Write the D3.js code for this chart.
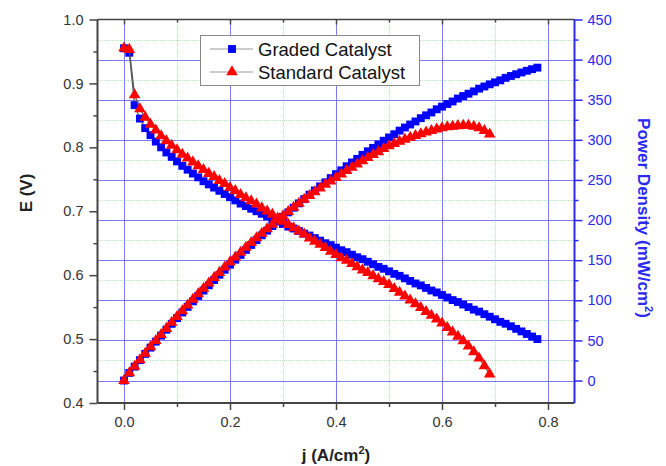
<!DOCTYPE html>
<html>
<head>
<meta charset="utf-8">
<script src="https://cdn.jsdelivr.net/npm/d3@7/dist/d3.min.js"></script>
<style>
    body { margin: 0; background: #fff; }
    text { font-family: "Liberation Sans", Arial, sans-serif; }
</style>
</head>
<body>
<script>
//polarization data
var jGraded = [0.00, 0.01, 0.02, 0.03, 0.04, 0.05, 0.06, 0.07, 0.08, 0.09,
    0.10, 0.11, 0.12, 0.13, 0.14, 0.15, 0.16, 0.17, 0.18, 0.19,
    0.20, 0.21, 0.22, 0.23, 0.24, 0.25, 0.26, 0.27, 0.28, 0.29,
    0.30, 0.31, 0.32, 0.33, 0.34, 0.35, 0.36, 0.37, 0.38, 0.39,
    0.40, 0.41, 0.42, 0.43, 0.44, 0.45, 0.46, 0.47, 0.48, 0.49,
    0.50, 0.51, 0.52, 0.53, 0.54, 0.55, 0.56, 0.57, 0.58, 0.59,
    0.60, 0.61, 0.62, 0.63, 0.64, 0.65, 0.66, 0.67, 0.68, 0.69,
    0.70, 0.71, 0.72, 0.73, 0.74, 0.75, 0.76, 0.77, 0.78];
var eGraded = [0.955, 0.948, 0.866, 0.845, 0.830, 0.819, 0.809, 0.800, 0.792, 0.785,
    0.778, 0.771, 0.765, 0.759, 0.753, 0.747, 0.742, 0.737, 0.732, 0.727,
    0.722, 0.717, 0.712, 0.708, 0.704, 0.700, 0.696, 0.692, 0.688, 0.684,
    0.680, 0.676, 0.673, 0.669, 0.665, 0.662, 0.658, 0.654, 0.650, 0.647,
    0.643, 0.639, 0.636, 0.632, 0.628, 0.625, 0.621, 0.617, 0.613, 0.610,
    0.606, 0.602, 0.599, 0.595, 0.591, 0.587, 0.584, 0.580, 0.576, 0.573,
    0.569, 0.565, 0.561, 0.558, 0.554, 0.550, 0.546, 0.543, 0.539, 0.535,
    0.531, 0.527, 0.524, 0.520, 0.516, 0.512, 0.508, 0.504, 0.500];
var pGraded = [0, 9.5, 17.3, 25.4, 33.2, 41.0, 48.5, 56.0, 63.4, 70.7,
    77.8, 84.8, 91.8, 98.7, 105.4, 112.1, 118.7, 125.3, 131.8, 138.1,
    144.4, 150.6, 156.6, 162.8, 169.0, 175.0, 181.0, 186.8, 192.6, 198.4,
    204.0, 209.6, 215.4, 220.8, 226.1, 231.7, 236.9, 242.0, 247.0, 252.3,
    257.2, 262.0, 267.1, 271.8, 276.3, 281.3, 285.7, 290.0, 294.2, 298.9,
    303.0, 307.0, 311.5, 315.4, 319.1, 322.9, 327.0, 330.6, 334.1, 338.1,
    341.4, 344.7, 347.8, 351.5, 354.6, 357.5, 360.4, 363.8, 366.5, 369.2,
    371.7, 374.2, 377.3, 379.6, 381.8, 384.0, 386.1, 388.1, 390.0];

var jStandard = [0.00, 0.01, 0.02, 0.03, 0.04, 0.05, 0.06, 0.07, 0.08, 0.09,
    0.10, 0.11, 0.12, 0.13, 0.14, 0.15, 0.16, 0.17, 0.18, 0.19,
    0.20, 0.21, 0.22, 0.23, 0.24, 0.25, 0.26, 0.27, 0.28, 0.29,
    0.30, 0.31, 0.32, 0.33, 0.34, 0.35, 0.36, 0.37, 0.38, 0.39,
    0.40, 0.41, 0.42, 0.43, 0.44, 0.45, 0.46, 0.47, 0.48, 0.49,
    0.50, 0.51, 0.52, 0.53, 0.54, 0.55, 0.56, 0.57, 0.58, 0.59,
    0.60, 0.61, 0.62, 0.63, 0.64, 0.65, 0.66, 0.67, 0.68, 0.69];
var eStandard = [0.955, 0.953, 0.882, 0.860, 0.847, 0.836, 0.827, 0.818, 0.810, 0.803,
    0.796, 0.789, 0.783, 0.777, 0.771, 0.765, 0.759, 0.754, 0.748, 0.743,
    0.737, 0.732, 0.726, 0.721, 0.716, 0.711, 0.705, 0.700, 0.695, 0.689,
    0.684, 0.679, 0.674, 0.669, 0.664, 0.658, 0.653, 0.648, 0.643, 0.637,
    0.632, 0.627, 0.623, 0.618, 0.613, 0.608, 0.604, 0.599, 0.594, 0.590,
    0.585, 0.579, 0.573, 0.567, 0.561, 0.555, 0.549, 0.543, 0.537, 0.531,
    0.525, 0.518, 0.511, 0.504, 0.497, 0.489, 0.480, 0.470, 0.458, 0.445];
var pStandard = [0, 9.5, 17.6, 25.8, 33.9, 41.8, 49.6, 57.3, 64.8, 72.3,
    79.6, 86.8, 94.0, 101.0, 107.9, 114.8, 121.4, 128.2, 134.6, 141.2,
    147.4, 153.7, 159.7, 165.8, 171.8, 177.8, 183.3, 189.0, 194.6, 199.8,
    205.2, 210.5, 215.7, 220.8, 225.8, 230.3, 235.1, 239.8, 244.3, 248.4,
    252.8, 257.1, 261.7, 265.7, 269.7, 273.6, 277.8, 281.5, 285.1, 289.1,
    292.5, 295.3, 298.0, 300.5, 303.0, 305.3, 307.4, 309.5, 311.5, 313.3,
    315.0, 316.0, 316.8, 317.5, 318.1, 317.9, 316.8, 314.9, 311.4, 307.1];

//tick values
var xTicks = [0.0, 0.2, 0.4, 0.6, 0.8],
    xMinor = [0.1, 0.3, 0.5, 0.7],
    eTicks = [0.4, 0.5, 0.6, 0.7, 0.8, 0.9, 1.0],
    eMinor = [0.45, 0.55, 0.65, 0.75, 0.85, 0.95],
    pTicks = [0, 50, 100, 150, 200, 250, 300, 350, 400, 450],
    pMinor = [25, 75, 125, 175, 225, 275, 325, 375, 425];

var seriesNames = ["Graded Catalyst", "Standard Catalyst"];

window.onload = drawChart();

function drawChart(){

    var width = 666,
        height = 466;

    //plot frame
    var left = 97.5, right = 574.5, top = 19.5, bottom = 403;

    var svg = d3.select("body")
        .append("svg")
        .attr("width", width)
        .attr("height", height);

    var x = d3.scaleLinear().domain([-0.05, 0.85]).range([left, right]);
    var yE = d3.scaleLinear().domain([0.4, 1.0]).range([bottom, top]);
    var yP = d3.scaleLinear().domain([-28, 450]).range([bottom, top]);

    var gridBlue = "#7c7cf2",
        gridGreen = "#b8e8b8",
        axisGray = "#444",
        rightBlue = "#2a2af0";

    //minor grid, dotted green
    var grid = svg.append("g").attr("shape-rendering", "crispEdges");
    grid.selectAll(".vminor")
        .data(xMinor).enter().append("line")
        .attr("x1", function(d){ return Math.round(x(d)) + 0.5; })
        .attr("x2", function(d){ return Math.round(x(d)) + 0.5; })
        .attr("y1", top).attr("y2", bottom)
        .attr("stroke", gridGreen).attr("stroke-dasharray", "1,1");
    grid.selectAll(".hminor")
        .data(pMinor).enter().append("line")
        .attr("y1", function(d){ return Math.round(yP(d)) + 0.5; })
        .attr("y2", function(d){ return Math.round(yP(d)) + 0.5; })
        .attr("x1", left).attr("x2", right)
        .attr("stroke", gridGreen).attr("stroke-dasharray", "1,1");

    //major grid, solid blue
    grid.selectAll(".vmajor")
        .data(xTicks).enter().append("line")
        .attr("x1", function(d){ return Math.round(x(d)) + 0.5; })
        .attr("x2", function(d){ return Math.round(x(d)) + 0.5; })
        .attr("y1", top).attr("y2", bottom)
        .attr("stroke", gridBlue);
    grid.selectAll(".hmajor")
        .data(pTicks.slice(0, -1)).enter().append("line")
        .attr("y1", function(d){ return Math.round(yP(d)) + 0.5; })
        .attr("y2", function(d){ return Math.round(yP(d)) + 0.5; })
        .attr("x1", left).attr("x2", right)
        .attr("stroke", gridBlue);

    //axes
    function styleAxis(g, color, size){
        g.select(".domain").remove();
        g.selectAll("line").attr("stroke", color).attr("stroke-width", 1.5);
        g.selectAll("text")
            .attr("fill", color)
            .style("font-size", size + "px")
            .style("font-family", "'Liberation Sans', Arial, sans-serif");
    }

    var bottomAxis = svg.append("g")
        .attr("transform", "translate(0," + bottom + ")")
        .call(d3.axisBottom(x).tickValues(xTicks).tickFormat(d3.format(".1f")).tickSize(7).tickPadding(7));
    styleAxis(bottomAxis, "#333", 14.5);
    bottomAxis.selectAll("line").attr("stroke", axisGray);
    svg.append("g")
        .attr("transform", "translate(0," + bottom + ")")
        .call(d3.axisBottom(x).tickValues(xMinor).tickFormat("").tickSize(4))
        .call(styleAxis, axisGray, 14.5);

    //top axis, ticks pointing in
    svg.append("g")
        .attr("transform", "translate(0," + top + ")")
        .call(d3.axisTop(x).tickValues(xTicks).tickFormat("").tickSize(-5))
        .call(styleAxis, axisGray, 14.5);
    svg.append("g")
        .attr("transform", "translate(0," + top + ")")
        .call(d3.axisTop(x).tickValues(xMinor).tickFormat("").tickSize(-3))
        .call(styleAxis, axisGray, 14.5);

    var leftAxis = svg.append("g")
        .attr("transform", "translate(" + left + ",0)")
        .call(d3.axisLeft(yE).tickValues(eTicks).tickFormat(d3.format(".1f")).tickSize(8).tickPadding(6));
    styleAxis(leftAxis, "#333", 14.5);
    leftAxis.selectAll("line").attr("stroke", axisGray);
    svg.append("g")
        .attr("transform", "translate(" + left + ",0)")
        .call(d3.axisLeft(yE).tickValues(eMinor).tickFormat("").tickSize(4))
        .call(styleAxis, axisGray, 14.5);

    var rightAxis = svg.append("g")
        .attr("transform", "translate(" + right + ",0)")
        .call(d3.axisRight(yP).tickValues(pTicks).tickSize(8).tickPadding(5))
        .call(styleAxis, rightBlue, 14.5);
    svg.append("g")
        .attr("transform", "translate(" + right + ",0)")
        .call(d3.axisRight(yP).tickValues(pMinor).tickFormat("").tickSize(4))
        .call(styleAxis, rightBlue, 14.5);

    //frame lines
    svg.append("line").attr("x1", left).attr("x2", right).attr("y1", top).attr("y2", top)
        .attr("stroke", axisGray).attr("stroke-width", 1.5);
    svg.append("line").attr("x1", left).attr("x2", right).attr("y1", bottom).attr("y2", bottom)
        .attr("stroke", axisGray).attr("stroke-width", 2);
    svg.append("line").attr("x1", left).attr("x2", left).attr("y1", top).attr("y2", bottom)
        .attr("stroke", axisGray).attr("stroke-width", 2);
    svg.append("line").attr("x1", right).attr("x2", right).attr("y1", top).attr("y2", bottom)
        .attr("stroke", rightBlue).attr("stroke-width", 2);

    //series
    var series = [
        {name: seriesNames[0], j: jGraded, e: eGraded, p: pGraded, color: "#0000ff", shape: d3.symbolSquare, size: 62},
        {name: seriesNames[1], j: jStandard, e: eStandard, p: pStandard, color: "#ff0000", shape: d3.symbolTriangle, size: 58}
    ];

    series.forEach(function(s){
        var eData = s.j.map(function(d, i){ return [d, s.e[i]]; }),
            pData = s.j.map(function(d, i){ return [d, s.p[i]]; });

        var lineE = d3.line().x(function(d){ return x(d[0]); }).y(function(d){ return yE(d[1]); });
        var lineP = d3.line().x(function(d){ return x(d[0]); }).y(function(d){ return yP(d[1]); });

        svg.append("path").datum(eData).attr("d", lineE)
            .attr("fill", "none").attr("stroke", "#555").attr("stroke-width", 1.2);
        svg.append("path").datum(pData).attr("d", lineP)
            .attr("fill", "none").attr("stroke", "#555").attr("stroke-width", 1.2);

        var sym = d3.symbol().type(s.shape).size(s.size);

        svg.append("g").selectAll("path")
            .data(eData).enter().append("path")
            .attr("d", sym)
            .attr("transform", function(d){ return "translate(" + x(d[0]) + "," + yE(d[1]) + ")"; })
            .attr("fill", s.color);
        svg.append("g").selectAll("path")
            .data(pData).enter().append("path")
            .attr("d", sym)
            .attr("transform", function(d){ return "translate(" + x(d[0]) + "," + yP(d[1]) + ")"; })
            .attr("fill", s.color);
    });

    //legend
    var legend = svg.append("g");
    legend.append("rect")
        .attr("x", 200.5).attr("y", 35.5).attr("width", 219).attr("height", 50)
        .attr("fill", "#fff").attr("stroke", "#888").attr("stroke-width", 1);

    series.forEach(function(s, i){
        var ly = 49 + i * 23;
        legend.append("line")
            .attr("x1", 210).attr("x2", 253).attr("y1", ly).attr("y2", ly)
            .attr("stroke", "#999").attr("stroke-width", 1.2);
        legend.append("path")
            .attr("d", d3.symbol().type(s.shape).size(s.size))
            .attr("transform", "translate(232," + ly + ")")
            .attr("fill", s.color);
        legend.append("text")
            .attr("x", 258).attr("y", ly + 6.5)
            .style("font-size", "18.5px")
            .attr("fill", "#111")
            .text(s.name);
    });

    //axis titles
    var xTitle = svg.append("text")
        .attr("x", (left + right) / 2).attr("y", 461)
        .attr("text-anchor", "middle")
        .style("font-size", "17px").style("font-weight", "bold")
        .attr("fill", "#222");
    xTitle.append("tspan").text("j (A/cm");
    xTitle.append("tspan").text("2").attr("dy", -7).style("font-size", "11px");
    xTitle.append("tspan").text(")").attr("dy", 7);

    svg.append("text")
        .attr("transform", "translate(32,193) rotate(-90)")
        .attr("text-anchor", "middle")
        .style("font-size", "17px").style("font-weight", "bold")
        .attr("fill", "#222")
        .text("E (V)");

    var pTitle = svg.append("text")
        .attr("transform", "translate(638,218) rotate(90)")
        .attr("text-anchor", "middle")
        .style("font-size", "17px").style("font-weight", "bold")
        .attr("fill", rightBlue);
    pTitle.append("tspan").text("Power Density (mW/cm");
    pTitle.append("tspan").text("2").attr("dy", -7).style("font-size", "11px");
    pTitle.append("tspan").text(")").attr("dy", 7);
};
</script>
</body>
</html>
